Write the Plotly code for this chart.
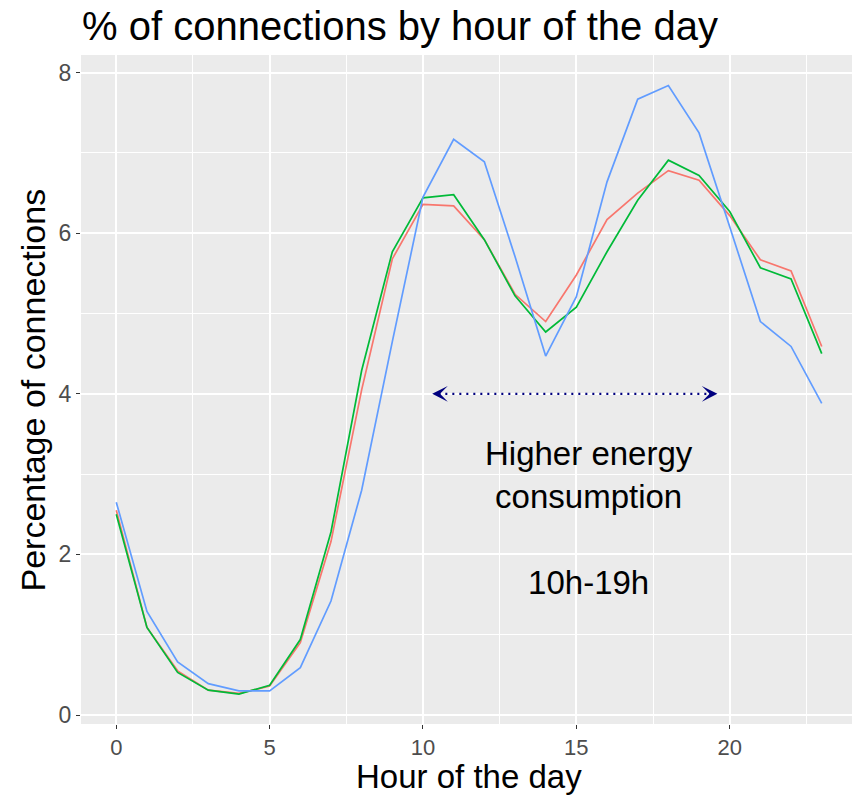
import plotly.graph_objects as go

hours = list(range(24))
series_red = [2.55, 1.09, 0.55, 0.31, 0.27, 0.36, 0.90, 2.16, 4.05, 5.68, 6.36, 6.34,
              5.92, 5.24, 4.90, 5.48, 6.17, 6.50, 6.78, 6.66, 6.22, 5.67, 5.53, 4.59]
series_green = [2.50, 1.09, 0.53, 0.31, 0.26, 0.37, 0.94, 2.28, 4.29, 5.77, 6.44, 6.48,
                5.92, 5.22, 4.77, 5.08, 5.77, 6.41, 6.91, 6.72, 6.27, 5.57, 5.43, 4.50]
series_blue = [2.65, 1.29, 0.66, 0.39, 0.30, 0.30, 0.59, 1.42, 2.80, 4.65, 6.45, 7.17,
               6.89, 5.71, 4.47, 5.21, 6.64, 7.67, 7.84, 7.25, 6.08, 4.90, 4.59, 3.88]
x_ticks = [0, 5, 10, 15, 20]
y_ticks = [0, 2, 4, 6, 8]
arrow_span = [10.3, 19.6]
arrow_level = 4
note_text = "Higher energy<br>consumption<br><br>10h-19h"
note_pos = [15.4, 2.45]

FONT = "Liberation Sans, Arial, Helvetica, sans-serif"
NAVY = "#00007F"
# the page body adds an 8px offset; margins below compensate for it
OFF = 8

fig = go.Figure()
for vals, col in [(series_red, "#F8766D"), (series_green, "#00BA38"), (series_blue, "#619CFF")]:
    fig.add_trace(go.Scatter(x=hours, y=vals, mode="lines",
                             line=dict(color=col, width=1.7), showlegend=False,
                             hoverinfo="skip"))

# dotted double arrow
fig.add_shape(type="line", xref="x", yref="y",
              x0=arrow_span[0] + 0.2, x1=arrow_span[1] - 0.2,
              y0=arrow_level, y1=arrow_level,
              line=dict(color=NAVY, width=2.2, dash="2px,5px"))
for tip, ax in [(arrow_span[0], 9), (arrow_span[1], -9)]:
    fig.add_annotation(x=tip, y=arrow_level, xref="x", yref="y", text=" ",
                       font=dict(size=1), showarrow=True, ax=ax, ay=0,
                       arrowhead=3, arrowsize=1.3, arrowwidth=2,
                       arrowcolor=NAVY, standoff=0, startstandoff=0)

fig.add_annotation(x=note_pos[0], y=note_pos[1], xref="x", yref="y",
                   text=note_text, showarrow=False, xanchor="center", yanchor="middle",
                   align="center", font=dict(family=FONT, size=33, color="black"))

# axis titles
fig.add_annotation(x=0.5, y=-0.079, xref="paper", yref="paper",
                   text="Hour of the day", showarrow=False,
                   xanchor="center", yanchor="middle",
                   font=dict(family=FONT, size=33, color="black"))
fig.add_annotation(x=-0.0619, y=0.5, xref="paper", yref="paper",
                   text="Percentage of connections", showarrow=False, textangle=-90,
                   xanchor="center", yanchor="middle",
                   font=dict(family=FONT, size=34, color="black"))

# faint strip of neighbouring panel on the far left
fig.add_shape(type="rect", xref="paper", yref="paper",
              x0=-81 / 776, x1=-76 / 776, y0=0.005, y1=1.0,
              fillcolor="#EBEBEB", line=dict(width=0), layer="below")

fig.update_layout(
    width=860, height=795, autosize=False,
    margin=dict(l=81 - OFF, r=3 + OFF, t=55 - OFF, b=71 + OFF),
    paper_bgcolor="white", plot_bgcolor="#EBEBEB",
    font=dict(family=FONT),
    title=dict(text="% of connections by hour of the day",
               x=(82 - OFF) / 860, xref="container", xanchor="left",
               y=1 - (26 - OFF) / 795, yref="container", yanchor="middle",
               font=dict(family=FONT, size=40, color="black")),
    showlegend=False,
)
fig.update_xaxes(range=[-1.15, 24.15], tickvals=x_ticks, ticktext=[str(v) for v in x_ticks],
                 showgrid=True, gridcolor="white", gridwidth=1.5, zeroline=False,
                 ticks="outside", ticklen=4, tickcolor="#333333", tickwidth=1,
                 tickfont=dict(family=FONT, size=22, color="#4D4D4D"),
                 minor=dict(tickvals=[-2.5, 2.5, 7.5, 12.5, 17.5, 22.5], showgrid=True,
                            gridcolor="white", gridwidth=0.7, ticks=""),
                 showline=False)
fig.update_yaxes(range=[-0.112, 8.22], tickvals=y_ticks, ticktext=[str(v) for v in y_ticks],
                 showgrid=True, gridcolor="white", gridwidth=1.5, zeroline=False,
                 ticks="outside", ticklen=4, tickcolor="#333333", tickwidth=1,
                 tickfont=dict(family=FONT, size=23, color="#4D4D4D"),
                 minor=dict(tickvals=[1, 3, 5, 7], showgrid=True,
                            gridcolor="white", gridwidth=0.7, ticks=""),
                 showline=False)

fig.write_html("out.html")
